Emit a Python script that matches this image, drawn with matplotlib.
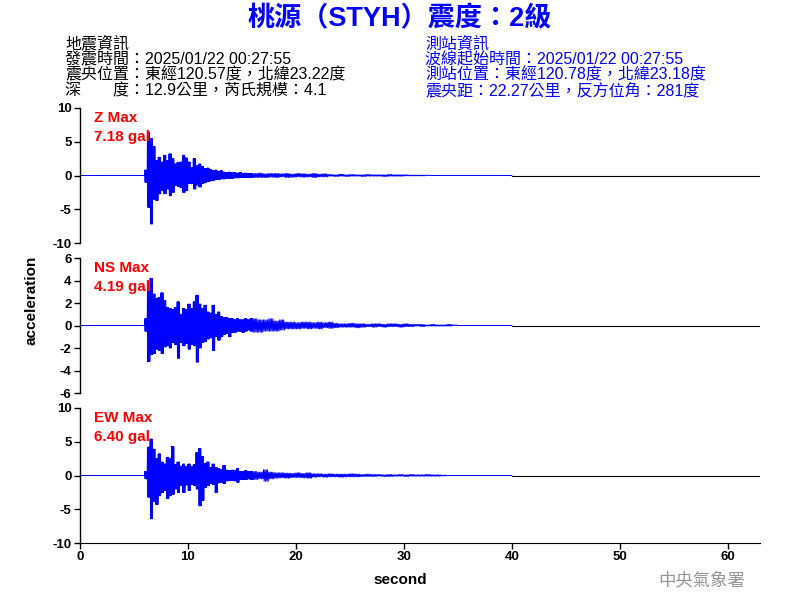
import numpy as np
import matplotlib
matplotlib.use("Agg")
from matplotlib import pyplot as plt

plt.rcParams['font.family'] = ['Liberation Sans', 'Noto Sans CJK TC', 'DejaVu Sans']
plt.rcParams['axes.unicode_minus'] = False

# time bins (s): 0.25 s bins in the strong part, 0.5 s bins in the coda
t_fine = np.arange(6.0, 16.0, 0.25)
t_coarse = np.arange(16.0, 36.0, 0.5)
record_end = 40.0
x_max = 63
strokes_per_bin = 4

# peak values (gal) read per bin, upper / lower
z_up = [0.8, 6.4, 5.5, 4.3, 2.2, 2.7, 2.0, 3.0, 2.2, 3.2, 2.5, 1.7, 1.9, 2.0, 3.0, 2.6,
        2.0, 1.2, 2.5, 1.5, 1.7, 1.3, 1.0, 1.1, 0.9, 0.75, 0.8, 0.6, 0.7, 0.5, 0.4, 0.5,
        0.45, 0.4, 0.35, 0.45, 0.3, 0.35, 0.3, 0.3,
        0.3, 0.35, 0.25, 0.3, 0.3, 0.25, 0.3, 0.2, 0.3, 0.25, 0.2, 0.3, 0.2, 0.25,
        0.15, 0.1, 0.2, 0.1, 0.15, 0.1, 0.1, 0.15, 0.1, 0.1, 0.1, 0.15, 0.1, 0.1,
        0.1, 0.05, 0.05, 0.05, 0.05, 0.0, 0.0, 0.0, 0.0, 0.0, 0.0, 0.0]
z_low = [-1.0, -4.7, -7.18, -3.5, -3.7, -2.7, -2.2, -2.7, -2.0, -3.0, -2.5, -1.5, -1.6, -1.8, -2.5, -2.2,
         -1.2, -1.2, -2.0, -1.4, -1.7, -1.2, -1.0, -0.9, -0.8, -0.75, -0.6, -0.6, -0.5, -0.5, -0.4, -0.4,
         -0.4, -0.35, -0.35, -0.3, -0.3, -0.3, -0.25, -0.3,
         -0.3, -0.3, -0.3, -0.25, -0.3, -0.2, -0.3, -0.25, -0.2, -0.25, -0.2, -0.3, -0.2, -0.2,
         -0.1, -0.15, -0.1, -0.15, -0.1, -0.1, -0.15, -0.1, -0.1, -0.1, -0.15, -0.1, -0.1, -0.1,
         -0.05, -0.05, -0.05, -0.05, 0.0, 0.0, 0.0, 0.0, 0.0, 0.0, 0.0, 0.0]

ns_up = [0.6, 3.0, 4.19, 2.8, 2.4, 2.5, 2.9, 2.2, 1.6, 1.5, 1.4, 1.6, 2.1, 1.0, 1.5, 1.4,
         1.9, 1.5, 2.1, 2.7, 1.9, 1.5, 1.8, 1.2, 1.1, 1.8, 1.0, 1.2, 0.8, 0.7, 0.7, 0.6,
         0.6, 0.5, 0.6, 0.5, 0.5, 0.6, 0.5, 0.6,
         0.6, 0.5, 0.5, 0.6, 0.4, 0.5, 0.3, 0.3, 0.25, 0.3, 0.3, 0.25, 0.3, 0.25,
         0.3, 0.2, 0.15, 0.15, 0.2, 0.15, 0.15, 0.1, 0.15, 0.15, 0.1, 0.15, 0.15, 0.1,
         0.15, 0.1, 0.1, 0.1, 0.05, 0.1, 0.05, 0.05, 0.1, 0.05, 0.0, 0.0]
ns_low = [-0.5, -3.2, -2.6, -2.5, -2.1, -2.2, -2.5, -1.9, -1.8, -2.0, -1.5, -1.7, -2.9, -1.5, -1.8, -1.6,
          -2.1, -1.7, -1.8, -3.25, -2.0, -1.5, -1.4, -1.2, -1.1, -2.2, -1.0, -1.3, -1.0, -0.8, -0.7, -1.0,
          -0.6, -0.6, -0.5, -0.5, -0.6, -0.5, -0.4, -0.5,
          -0.6, -0.6, -0.5, -0.5, -0.5, -0.4, -0.3, -0.3, -0.3, -0.25, -0.3, -0.25, -0.3, -0.2,
          -0.25, -0.2, -0.15, -0.15, -0.15, -0.2, -0.15, -0.1, -0.15, -0.1, -0.15, -0.1, -0.1, -0.15,
          -0.1, -0.1, -0.05, -0.1, -0.05, -0.05, -0.05, -0.05, -0.05, 0.0, 0.0, 0.0]

ew_up = [0.6, 4.2, 5.4, 3.9, 2.5, 3.2, 2.0, 1.7, 2.7, 2.5, 4.3, 1.6, 2.0, 1.4, 1.7, 1.3,
         1.7, 1.3, 1.6, 3.4, 4.0, 2.8, 1.8, 2.0, 1.2, 1.7, 1.2, 1.0, 0.9, 1.5, 0.8, 0.7,
         0.8, 0.7, 1.0, 0.6, 0.6, 0.7, 0.6, 0.6,
         0.6, 0.5, 0.85, 0.5, 0.4, 0.4, 0.35, 0.3, 0.4, 0.3, 0.4, 0.25, 0.25, 0.2,
         0.25, 0.2, 0.2, 0.2, 0.25, 0.2, 0.15, 0.2, 0.15, 0.15, 0.1, 0.15, 0.1, 0.15,
         0.1, 0.15, 0.1, 0.1, 0.15, 0.1, 0.1, 0.05, 0.0, 0.0, 0.0, 0.0]
ew_low = [-0.5, -3.2, -6.40, -3.8, -4.3, -3.0, -2.5, -2.2, -3.4, -3.0, -2.8, -2.0, -2.5, -1.5, -2.5, -1.4,
          -2.2, -1.3, -1.5, -2.0, -4.5, -3.7, -1.8, -1.5, -1.2, -1.3, -2.5, -1.1, -1.0, -1.2, -0.8, -0.7,
          -0.7, -0.8, -1.0, -0.6, -0.6, -0.6, -0.5, -0.6,
          -0.6, -0.5, -0.85, -0.5, -0.4, -0.35, -0.4, -0.3, -0.3, -0.35, -0.4, -0.25, -0.2, -0.25,
          -0.2, -0.2, -0.25, -0.2, -0.2, -0.2, -0.15, -0.15, -0.15, -0.1, -0.15, -0.15, -0.1, -0.1,
          -0.15, -0.1, -0.1, -0.1, -0.1, -0.1, -0.1, -0.05, 0.0, 0.0, 0.0, 0.0]

components = ["Z", "NS", "EW"]
max_labels = ["7.18 gal", "4.19 gal", "6.40 gal"]
y_limits = [10, 6, 10]
y_steps = [5, 2, 5]
uppers = [z_up, ns_up, ew_up]
lowers = [z_low, ns_low, ew_low]

info_left = ["地震資訊",
             "發震時間：2025/01/22 00:27:55",
             "震央位置：東經120.57度，北緯23.22度",
             "深　　度：12.9公里，芮氏規模：4.1"]
info_right = ["測站資訊",
              "波線起始時間：2025/01/22 00:27:55",
              "測站位置：東經120.78度，北緯23.18度",
              "震央距：22.27公里，反方位角：281度"]


def trace_line(up, low):
    # each bin is drawn as a few strokes between its upper and lower peak
    times = np.concatenate([t_fine, t_coarse])
    widths = np.concatenate([np.full(len(t_fine), 0.25), np.full(len(t_coarse), 0.5)])
    tt = [0.0, times[0]]
    vv = [0.0, 0.0]
    for t, w, u, l in zip(times, widths, up, low):
        step = w / (2 * strokes_per_bin)
        for k in range(strokes_per_bin):
            tt += [t + 2 * k * step, t + (2 * k + 1) * step]
            vv += [u, l]
    tt += [times[-1] + 0.5, record_end]
    vv += [0.0, 0.0]
    return tt, vv


fig = plt.figure(figsize=(8, 6), dpi=100)

bottoms = [0.595, 0.345, 0.095]
for i, comp in enumerate(components):
    ax = fig.add_axes([0.1, bottoms[i], 0.85, 0.225])
    ax.axhline(0, xmin=record_end / x_max, xmax=1, color="black", linewidth=0.8, zorder=1)
    tt, vv = trace_line(uppers[i], lowers[i])
    ax.plot(tt, vv, color="#0000FF", linewidth=0.7, zorder=2)
    lim = y_limits[i]
    ax.set_ylim(-lim, lim)
    ax.set_xlim(0, x_max)
    ax.set_yticks(np.arange(-lim, lim + 1, y_steps[i]))
    for s in ["top", "right"]:
        ax.spines[s].set_visible(False)
    ax.spines["left"].set_linewidth(1.0)
    if i < 2:
        ax.spines["bottom"].set_visible(False)
        ax.set_xticks([])
    else:
        ax.set_xticks(np.arange(0, 61, 10))
    ax.tick_params(length=4, width=1, labelsize=9.5, pad=2)
    for lab in ax.get_xticklabels() + ax.get_yticklabels():
        lab.set_fontweight("bold")
    ax.patch.set_alpha(0)
    ax.text(0.02, 0.925, comp + " Max", transform=ax.transAxes, color="#FF0000",
            fontsize=11, fontweight="bold", va="center", ha="left")
    ax.text(0.02, 0.785, max_labels[i], transform=ax.transAxes, color="#FF0000",
            fontsize=11, fontweight="bold", va="center", ha="left")

fig.text(0.5, 0.968, "桃源（STYH）震度：2級", ha="center", va="center",
         fontsize=19.5, fontweight="bold", color="#0000FF")

line_y = [44, 60, 75, 91]
for y, txt in zip(line_y, info_left):
    fig.text(65 / 800, 1 - y / 600, txt, ha="left", va="center", fontsize=11.5, color="black")
for y, txt in zip(line_y, info_right):
    fig.text(425 / 800, 1 - y / 600, txt, ha="left", va="center", fontsize=11.5, color="#0000FF")

fig.text(0.04, 0.5, "acceleration", rotation=90, ha="center", va="center",
         fontsize=11, fontweight="bold")
fig.text(0.5, 1 - 580 / 600, "second", ha="center", va="center",
         fontsize=11, fontweight="bold")
fig.text(702 / 800, 1 - 580 / 600, "中央氣象署", ha="center", va="center",
         fontsize=12.5, color="#969696")

plt.savefig("out.png", dpi=100)
